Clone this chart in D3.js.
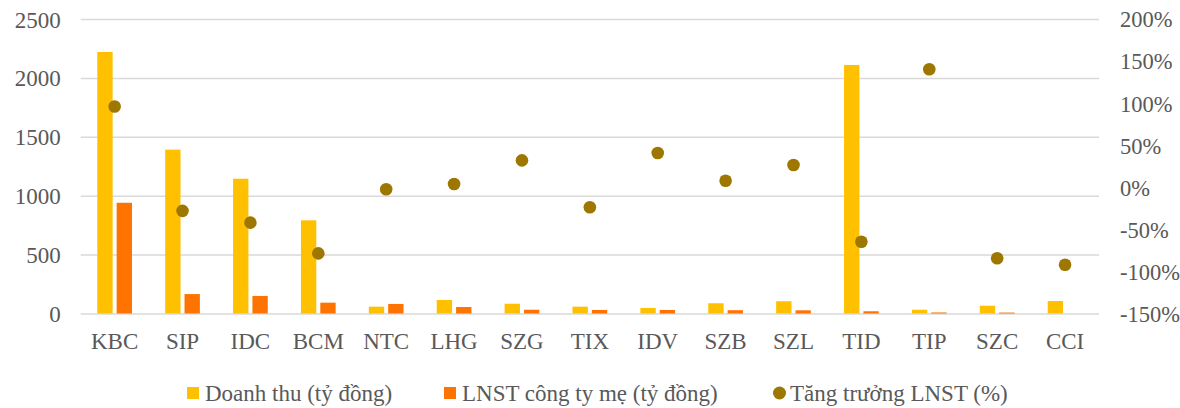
<!DOCTYPE html>
<html>
<head>
<meta charset="utf-8">
<title>Doanh thu - LNST</title>
<style>
  body { margin: 0; background: #fff; }
  svg text { font-family: "Liberation Serif", "Times New Roman", serif; fill: #595959; }
</style>
</head>
<body>
<svg width="1180" height="408"></svg>
<script src="https://cdn.jsdelivr.net/npm/d3@7"></script>
<script>
// dữ liệu
const categories = ["KBC", "SIP", "IDC", "BCM", "NTC", "LHG", "SZG", "TIX", "IDV", "SZB", "SZL", "TID", "TIP", "SZC", "CCI"]
const revenue = [2220, 1391, 1144, 791, 58, 115, 83, 58, 47, 87, 104, 2110, 32, 66, 106]
const profit = [940, 165, 149, 92, 81, 55, 32, 30, 30, 28, 27, 19, 9, 8, 0]
const growth = [0.96, -0.28, -0.42, -0.785, -0.024, 0.039, 0.32, -0.238, 0.407, 0.078, 0.265, -0.647, 1.402, -0.844, -0.92]
const leftTicks = [0, 500, 1000, 1500, 2000, 2500]
const rightTicks = [-1.5, -1, -0.5, 0, 0.5, 1, 1.5, 2]
const seriesNames = ["Doanh thu (tỷ đồng)", "LNST công ty mẹ (tỷ đồng)", "Tăng trưởng LNST (%)"]
const colors = ["#FFC000", "#FF7400", "#9E7700"]

const svg = d3.select("svg")
const plotL = 80.7, plotR = 1099, plotT = 19, plotB = 313.5
const serif = "'Liberation Serif', 'Times New Roman', serif"

// thang đo
const x0 = d3.scaleBand().domain(categories).range([plotL, plotR]).paddingInner(0.489).paddingOuter(0.2445)
const x1 = d3.scaleBand().domain([0, 1]).range([0, x0.bandwidth()]).paddingInner(0.207)
const y = d3.scaleLinear().domain([0, 2500]).range([plotB, plotT])
const y2 = d3.scaleLinear().domain([-1.5, 2]).range([plotB, plotT])

// lưới + trục trái
const gy = svg.append("g").attr("transform", `translate(${plotL},0)`)
  .call(d3.axisLeft(y).tickValues(leftTicks).tickSize(-(plotR - plotL)).tickPadding(20).tickFormat(d3.format("d")))
  .attr("font-family", serif).attr("font-size", 23)
gy.select(".domain").remove()
gy.selectAll("line").attr("stroke", "#D9D9D9").attr("stroke-width", 1.5)
gy.selectAll("text").attr("dy", "0.35em").attr("fill", "#595959")

// trục phải
const pct = d => Math.round(d * 100) + "%"
const gy2 = svg.append("g").attr("transform", `translate(${plotR},0)`)
  .call(d3.axisRight(y2).tickValues(rightTicks).tickSize(0).tickPadding(21).tickFormat(pct))
  .attr("font-family", serif).attr("font-size", 22.5)
gy2.select(".domain").remove()
gy2.selectAll("text").attr("dy", "0.35em").attr("fill", "#595959")

// cột
const groups = svg.append("g").selectAll("g").data(categories).join("g")
  .attr("transform", d => `translate(${x0(d)},0)`)
groups.selectAll("rect").data((d, i) => [revenue[i], profit[i]]).join("rect")
  .attr("x", (d, j) => x1(j))
  .attr("width", x1.bandwidth())
  .attr("y", d => y(d))
  .attr("height", d => y(0) - y(d))
  .attr("fill", (d, j) => colors[j])

// điểm tăng trưởng
svg.append("g").selectAll("circle").data(growth).join("circle")
  .attr("cx", (d, i) => x0(categories[i]) + x0.bandwidth() / 2)
  .attr("cy", d => y2(d))
  .attr("r", 6.3)
  .attr("fill", colors[2])

// nhãn trục x
svg.append("g").selectAll("text").data(categories).join("text")
  .attr("x", d => x0(d) + x0.bandwidth() / 2)
  .attr("y", 349)
  .attr("text-anchor", "middle")
  .attr("font-size", 23)
  .text(d => d)

// chú thích
const legendX = [187, 444, 773]
const lg = svg.append("g").selectAll("g").data(seriesNames).join("g")
  .attr("transform", (d, i) => `translate(${legendX[i]},0)`)
lg.each(function (d, i) {
  const g = d3.select(this)
  if (i < 2) {
    g.append("rect").attr("x", 0).attr("y", 387).attr("width", 12).attr("height", 12).attr("fill", colors[i])
  } else {
    g.append("circle").attr("cx", 6.5).attr("cy", 393).attr("r", 6.5).attr("fill", colors[i])
  }
  g.append("text").attr("x", i < 2 ? 18 : 17).attr("y", 401).attr("font-size", 23).text(d)
})
</script>
</body>
</html>
